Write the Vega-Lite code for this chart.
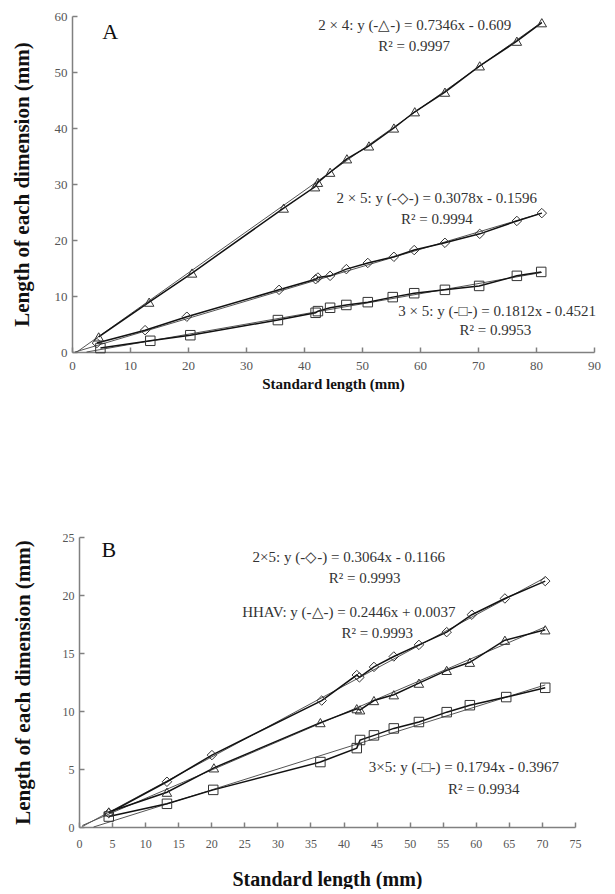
{
  "$schema": "https://vega.github.io/schema/vega-lite/v6.json",
  "padding": {"left": 11, "top": 10, "right": 5, "bottom": 0},
  "background": "white",
  "spacing": 140,
  "config": {
    "view": {"stroke": null},
    "font": "Liberation Serif",
    "axis": {
      "grid": false,
      "domainColor": "#808080",
      "domainWidth": 1.5,
      "tickColor": "#808080",
      "tickWidth": 1.5,
      "tickSize": -5,
      "labelFont": "Liberation Serif",
      "labelColor": "#555555",
      "labelFontSize": 13,
      "labelFlush": false,
      "titleFont": "Liberation Serif",
      "titleFontWeight": "bold",
      "titleColor": "#111111"
    }
  },
  "datasets": {
    "ptsA": [
      {"series": "tri", "x": 4.6, "y": 2.7}, {"series": "tri", "x": 13.3, "y": 8.9}, {"series": "tri", "x": 20.7, "y": 14.1}, {"series": "tri", "x": 36.5, "y": 25.7}, {"series": "tri", "x": 41.9, "y": 29.5}, {"series": "tri", "x": 42.4, "y": 30.3}, {"series": "tri", "x": 44.5, "y": 32.1}, {"series": "tri", "x": 47.4, "y": 34.5}, {"series": "tri", "x": 51.2, "y": 36.8}, {"series": "tri", "x": 55.5, "y": 40.0}, {"series": "tri", "x": 59.1, "y": 42.9}, {"series": "tri", "x": 64.3, "y": 46.4}, {"series": "tri", "x": 70.3, "y": 51.1}, {"series": "tri", "x": 76.7, "y": 55.5}, {"series": "tri", "x": 81.0, "y": 58.8},
      {"series": "dia", "x": 4.3, "y": 1.6}, {"series": "dia", "x": 12.6, "y": 3.9}, {"series": "dia", "x": 19.8, "y": 6.3}, {"series": "dia", "x": 35.7, "y": 11.1}, {"series": "dia", "x": 42.0, "y": 13.0}, {"series": "dia", "x": 42.4, "y": 13.3}, {"series": "dia", "x": 44.5, "y": 13.6}, {"series": "dia", "x": 47.3, "y": 14.8}, {"series": "dia", "x": 51.0, "y": 15.9}, {"series": "dia", "x": 55.5, "y": 17.0}, {"series": "dia", "x": 59.0, "y": 18.2}, {"series": "dia", "x": 64.3, "y": 19.5}, {"series": "dia", "x": 70.3, "y": 21.1}, {"series": "dia", "x": 76.7, "y": 23.4}, {"series": "dia", "x": 81.0, "y": 24.8},
      {"series": "sq", "x": 4.9, "y": 0.7}, {"series": "sq", "x": 13.5, "y": 2.0}, {"series": "sq", "x": 20.4, "y": 3.0}, {"series": "sq", "x": 35.5, "y": 5.7}, {"series": "sq", "x": 42.0, "y": 7.0}, {"series": "sq", "x": 42.4, "y": 7.3}, {"series": "sq", "x": 44.5, "y": 7.9}, {"series": "sq", "x": 47.3, "y": 8.4}, {"series": "sq", "x": 51.0, "y": 8.9}, {"series": "sq", "x": 55.3, "y": 9.8}, {"series": "sq", "x": 59.0, "y": 10.5}, {"series": "sq", "x": 64.3, "y": 11.1}, {"series": "sq", "x": 70.2, "y": 11.8}, {"series": "sq", "x": 76.7, "y": 13.6}, {"series": "sq", "x": 80.9, "y": 14.3}
    ],
    "trendA": [
      {"series": "tri", "x": 0.83, "y": 0}, {"series": "tri", "x": 81, "y": 58.9},
      {"series": "dia", "x": 0.52, "y": 0}, {"series": "dia", "x": 81, "y": 24.8},
      {"series": "sq", "x": 2.5, "y": 0}, {"series": "sq", "x": 81, "y": 14.2}
    ],
    "textA": [
      {"x": 59.1, "y": 58.4, "label": "2 × 4: y (-△-) = 0.7346x - 0.609"},
      {"x": 59.0, "y": 54.6, "label": "R² = 0.9997"},
      {"x": 62.9, "y": 27.5, "label": "2 × 5: y (-◇-) = 0.3078x - 0.1596"},
      {"x": 62.9, "y": 23.8, "label": "R² = 0.9994"},
      {"x": 73.3, "y": 7.3, "label": "3 × 5: y (-□-) = 0.1812x - 0.4521"},
      {"x": 73.0, "y": 3.9, "label": "R² = 0.9953"}
    ],
    "ptsB": [
      {"series": "dia", "x": 4.5, "y": 1.2}, {"series": "dia", "x": 13.3, "y": 3.9}, {"series": "dia", "x": 20.1, "y": 6.2}, {"series": "dia", "x": 36.7, "y": 10.9}, {"series": "dia", "x": 42.0, "y": 13.1}, {"series": "dia", "x": 42.4, "y": 12.9}, {"series": "dia", "x": 44.6, "y": 13.8}, {"series": "dia", "x": 47.6, "y": 14.7}, {"series": "dia", "x": 51.4, "y": 15.7}, {"series": "dia", "x": 55.6, "y": 16.8}, {"series": "dia", "x": 59.4, "y": 18.3}, {"series": "dia", "x": 64.4, "y": 19.7}, {"series": "dia", "x": 70.5, "y": 21.2},
      {"series": "tri", "x": 4.5, "y": 1.3}, {"series": "tri", "x": 13.3, "y": 3.0}, {"series": "tri", "x": 20.4, "y": 5.1}, {"series": "tri", "x": 36.5, "y": 9.0}, {"series": "tri", "x": 42.0, "y": 10.2}, {"series": "tri", "x": 42.5, "y": 10.1}, {"series": "tri", "x": 44.6, "y": 10.9}, {"series": "tri", "x": 47.6, "y": 11.4}, {"series": "tri", "x": 51.4, "y": 12.4}, {"series": "tri", "x": 55.6, "y": 13.5}, {"series": "tri", "x": 59.1, "y": 14.2}, {"series": "tri", "x": 64.4, "y": 16.1}, {"series": "tri", "x": 70.5, "y": 17.0},
      {"series": "sq", "x": 4.5, "y": 0.9}, {"series": "sq", "x": 13.3, "y": 2.0}, {"series": "sq", "x": 20.3, "y": 3.2}, {"series": "sq", "x": 36.5, "y": 5.6}, {"series": "sq", "x": 42.0, "y": 6.8}, {"series": "sq", "x": 42.5, "y": 7.5}, {"series": "sq", "x": 44.6, "y": 7.9}, {"series": "sq", "x": 47.6, "y": 8.5}, {"series": "sq", "x": 51.4, "y": 9.05}, {"series": "sq", "x": 55.6, "y": 9.9}, {"series": "sq", "x": 59.1, "y": 10.5}, {"series": "sq", "x": 64.6, "y": 11.2}, {"series": "sq", "x": 70.5, "y": 12.0}
    ],
    "trendB": [
      {"series": "dia", "x": 0.5, "y": 0.04}, {"series": "dia", "x": 70.5, "y": 21.5},
      {"series": "tri", "x": 0.5, "y": 0.13}, {"series": "tri", "x": 70.5, "y": 17.25},
      {"series": "sq", "x": 2.2, "y": 0}, {"series": "sq", "x": 70.5, "y": 12.25}
    ],
    "textB": [
      {"x": 40.8, "y": 23.3, "label": "2×5: y (-◇-) = 0.3064x - 0.1166"},
      {"x": 43.2, "y": 21.5, "label": "R² = 0.9993"},
      {"x": 40.8, "y": 18.5, "label": "HHAV: y (-△-) = 0.2446x + 0.0037"},
      {"x": 45.1, "y": 16.7, "label": "R² = 0.9993"},
      {"x": 58.2, "y": 5.2, "label": "3×5: y (-□-) = 0.1794x - 0.3967"},
      {"x": 61.2, "y": 3.3, "label": "R² = 0.9934"}
    ]
  },
  "vconcat": [
    {
      "width": 522,
      "height": 336,
      "layer": [
        {
          "data": {"name": "trendA"},
          "mark": {"type": "line", "color": "#555555", "strokeWidth": 1},
          "encoding": {
            "x": {"field": "x", "type": "quantitative", "scale": {"domain": [0, 90], "nice": false, "zero": false},
                  "axis": {"title": "Standard  length (mm)", "values": [0, 10, 20, 30, 40, 50, 60, 70, 80, 90], "tickCount": 20, "titleFontSize": 15, "titlePadding": 4, "labelPadding": 12, "labelOverlap": false}},
            "y": {"field": "y", "type": "quantitative", "scale": {"domain": [0, 60], "nice": false, "zero": false},
                  "axis": {"title": "Length of each dimension (mm)", "values": [0, 10, 20, 30, 40, 50, 60], "tickCount": 20, "titleFontSize": 21, "titlePadding": 22, "labelPadding": 10, "labelOverlap": false}},
            "detail": {"field": "series"}
          }
        },
        {
          "data": {"name": "ptsA"},
          "mark": {"type": "line", "color": "#111111", "strokeWidth": 1.5},
          "encoding": {
            "x": {"field": "x", "type": "quantitative"},
            "y": {"field": "y", "type": "quantitative"},
            "detail": {"field": "series"}
          }
        },
        {
          "data": {"name": "ptsA"},
          "mark": {"type": "point", "filled": false, "stroke": "#333333", "strokeWidth": 1, "size": 90, "opacity": 1},
          "encoding": {
            "x": {"field": "x", "type": "quantitative"},
            "y": {"field": "y", "type": "quantitative"},
            "shape": {"field": "series", "type": "nominal", "scale": {"domain": ["tri", "dia", "sq"], "range": ["triangle-up", "diamond", "square"]}, "legend": null}
          }
        },
        {
          "data": {"name": "textA"},
          "mark": {"type": "text", "font": "Liberation Serif", "fontSize": 15, "color": "#333333", "align": "center", "baseline": "middle"},
          "encoding": {
            "x": {"field": "x", "type": "quantitative"},
            "y": {"field": "y", "type": "quantitative"},
            "text": {"field": "label"}
          }
        },
        {
          "data": {"values": [{"x": 6.6, "y": 57.1, "label": "A"}]},
          "mark": {"type": "text", "font": "Liberation Serif", "fontSize": 22, "color": "#111111", "align": "center", "baseline": "middle"},
          "encoding": {
            "x": {"field": "x", "type": "quantitative"},
            "y": {"field": "y", "type": "quantitative"},
            "text": {"field": "label"}
          }
        }
      ]
    },
    {
      "width": 503,
      "height": 290,
      "layer": [
        {
          "data": {"name": "trendB"},
          "mark": {"type": "line", "color": "#555555", "strokeWidth": 1},
          "encoding": {
            "x": {"field": "x", "type": "quantitative", "scale": {"domain": [0, 75], "nice": false, "zero": false, "range": [7, 503]},
                  "axis": {"title": "Standard  length (mm)", "values": [0, 5, 10, 15, 20, 25, 30, 35, 40, 45, 50, 55, 60, 65, 70, 75], "tickCount": 20, "titleFontSize": 20, "titlePadding": 20, "labelPadding": 16, "labelFontSize": 12, "labelOverlap": false}},
            "y": {"field": "y", "type": "quantitative", "scale": {"domain": [0, 25], "nice": false, "zero": false},
                  "axis": {"title": "Length of each dimension (mm)", "values": [0, 5, 10, 15, 20, 25], "tickCount": 20, "titleFontSize": 21, "titlePadding": 29, "labelPadding": 10, "labelFontSize": 12, "offset": -7, "labelOverlap": false}},
            "detail": {"field": "series"}
          }
        },
        {
          "data": {"name": "ptsB"},
          "mark": {"type": "line", "color": "#111111", "strokeWidth": 1.5},
          "encoding": {
            "x": {"field": "x", "type": "quantitative"},
            "y": {"field": "y", "type": "quantitative"},
            "detail": {"field": "series"}
          }
        },
        {
          "data": {"name": "ptsB"},
          "mark": {"type": "point", "filled": false, "stroke": "#333333", "strokeWidth": 1, "size": 90, "opacity": 1},
          "encoding": {
            "x": {"field": "x", "type": "quantitative"},
            "y": {"field": "y", "type": "quantitative"},
            "shape": {"field": "series", "type": "nominal", "scale": {"domain": ["tri", "dia", "sq"], "range": ["triangle-up", "diamond", "square"]}, "legend": null}
          }
        },
        {
          "data": {"name": "textB"},
          "mark": {"type": "text", "font": "Liberation Serif", "fontSize": 15, "color": "#333333", "align": "center", "baseline": "middle"},
          "encoding": {
            "x": {"field": "x", "type": "quantitative"},
            "y": {"field": "y", "type": "quantitative"},
            "text": {"field": "label"}
          }
        },
        {
          "data": {"values": [{"x": 4.5, "y": 23.9, "label": "B"}]},
          "mark": {"type": "text", "font": "Liberation Serif", "fontSize": 22, "color": "#111111", "align": "center", "baseline": "middle"},
          "encoding": {
            "x": {"field": "x", "type": "quantitative"},
            "y": {"field": "y", "type": "quantitative"},
            "text": {"field": "label"}
          }
        }
      ]
    }
  ]
}
